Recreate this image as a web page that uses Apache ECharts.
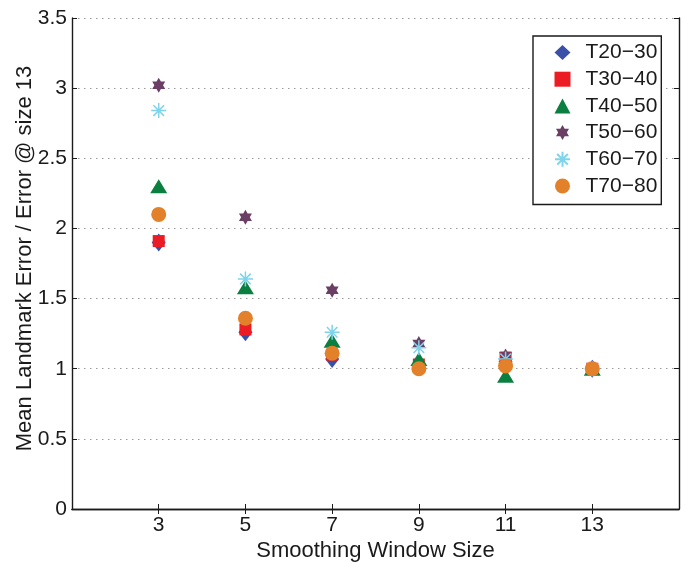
<!DOCTYPE html>
<html>
<head>
<meta charset="utf-8">
<script src="https://cdn.jsdelivr.net/npm/echarts@6/dist/echarts.min.js"></script>
<style>
  html, body { margin: 0; padding: 0; background: #fff; }
  #chart { width: 686px; height: 562px; }
</style>
</head>
<body>
<div id="chart"></div>
<script>
// Smoothing window sizes on the x axis
const windowSizes = [3, 5, 7, 9, 11, 13];

// Mean landmark error relative to the error at window size 13, per age group
const seriesNames = ['T20\u221230', 'T30\u221240', 'T40\u221250', 'T50\u221260', 'T60\u221270', 'T70\u221280'];
const t20_30 = [1.90, 1.26, 1.07, 1.02, 1.05, 1.00];
const t30_40 = [1.91, 1.28, 1.10, 1.03, 1.08, 1.00];
const t40_50 = [2.30, 1.58, 1.20, 1.07, 0.95, 1.00];
const t50_60 = [3.02, 2.08, 1.56, 1.18, 1.09, 1.00];
const t60_70 = [2.84, 1.64, 1.26, 1.15, 1.07, 1.00];
const t70_80 = [2.10, 1.36, 1.11, 1.00, 1.02, 1.00];

const yTicks = [0, 0.5, 1, 1.5, 2, 2.5, 3, 3.5];

const FONT = '"Liberation Sans", Arial, Helvetica, sans-serif';
const INK = '#1a1a1a';

// six-pointed star (hexagram) and an eight-ray asterisk
const HEXAGRAM = 'path://M0,-100L28.9,-50L86.6,-50L57.7,0L86.6,50L28.9,50L0,100L-28.9,50L-86.6,50L-57.7,0L-86.6,-50L-28.9,-50Z';
const ASTERISK = 'path://M0,-100L0,100M-100,0L100,0M-70.7,-70.7L70.7,70.7M-70.7,70.7L70.7,-70.7';

const styles = [
  { symbol: 'diamond',  size: [14, 18], color: '#3a50a8' },
  { symbol: 'rect',     size: [12, 12], color: '#ec1c24' },
  { symbol: 'triangle', size: [17, 14], color: '#0b7f3f' },
  { symbol: HEXAGRAM,   size: [13, 15], color: '#6b3e66' },
  { symbol: ASTERISK,   size: [15, 15], color: '#7fd3ea', stroke: true },
  { symbol: 'circle',   size: [15, 15], color: '#e2812a' }
];

const values = [t20_30, t30_40, t40_50, t50_60, t60_70, t70_80];

const series = values.map((vals, i) => {
  const st = styles[i];
  return {
    name: seriesNames[i],
    type: 'scatter',
    symbol: st.symbol,
    symbolSize: st.size,
    data: windowSizes.map((x, k) => [x, vals[k]]),
    itemStyle: st.stroke
      ? { color: 'rgba(255,255,255,0)', borderColor: st.color, borderWidth: 1.5, opacity: 1 }
      : { color: st.color, opacity: 1 },
    emphasis: { disabled: true }
  };
});

const axisLine = { show: true, lineStyle: { color: INK, width: 1.4 } };
const tickIn = { show: true, inside: true, length: 5, lineStyle: { color: INK, width: 1 } };

const chart = echarts.init(document.getElementById('chart'), null, { renderer: 'canvas' });
chart.setOption({
  animation: false,
  backgroundColor: '#ffffff',
  textStyle: { fontFamily: FONT },
  grid: { left: 72, right: 7, top: 18, bottom: 53, containLabel: false, outerBoundsMode: 'none' },
  legend: {
    orient: 'vertical',
    left: 533,
    top: 36,
    padding: [6, 4, 8, 21],
    itemGap: 5.7,
    itemWidth: 16,
    itemHeight: 15,
    backgroundColor: '#ffffff',
    borderColor: INK,
    borderWidth: 1.4,
    borderRadius: 0,
    selectedMode: false,
    textStyle: { fontFamily: FONT, fontSize: 21, color: INK, padding: [0, 0, 0, 10] },
    data: seriesNames
  },
  xAxis: [
    {
      type: 'value', min: 1, max: 15,
      name: 'Smoothing Window Size',
      nameLocation: 'middle', nameGap: 31, nameMoveOverlap: false,
      nameTextStyle: { fontFamily: FONT, fontSize: 22, color: INK },
      axisLine: axisLine,
      axisTick: Object.assign({ customValues: windowSizes }, tickIn),
      axisLabel: { customValues: windowSizes, fontFamily: FONT, fontSize: 21, color: INK, margin: 6 },
      splitLine: { show: false }
    },
    {
      type: 'value', min: 1, max: 15, position: 'top',
      axisLine: axisLine,
      axisTick: Object.assign({ customValues: windowSizes }, tickIn),
      axisLabel: { show: false },
      splitLine: { show: false }
    }
  ],
  yAxis: [
    {
      type: 'value', min: 0, max: 3.5, interval: 0.5,
      name: 'Mean Landmark Error / Error @ size 13',
      nameLocation: 'middle', nameGap: 36, nameMoveOverlap: false,
      nameTextStyle: { fontFamily: FONT, fontSize: 22, color: INK, padding: [0, 0, 0, 10] },
      axisLine: axisLine,
      axisTick: tickIn,
      axisLabel: {
        fontFamily: FONT, fontSize: 21, color: INK, margin: 5,
        customValues: yTicks,
        formatter: v => String(v)
      },
      splitLine: { show: true, lineStyle: { color: '#9a9a9a', type: [1.5, 4.5], width: 1 } }
    },
    {
      type: 'value', min: 0, max: 3.5, interval: 0.5, position: 'right',
      axisLine: axisLine,
      axisTick: tickIn,
      axisLabel: { show: false },
      splitLine: { show: false }
    }
  ],
  series: series
});
</script>
</body>
</html>
